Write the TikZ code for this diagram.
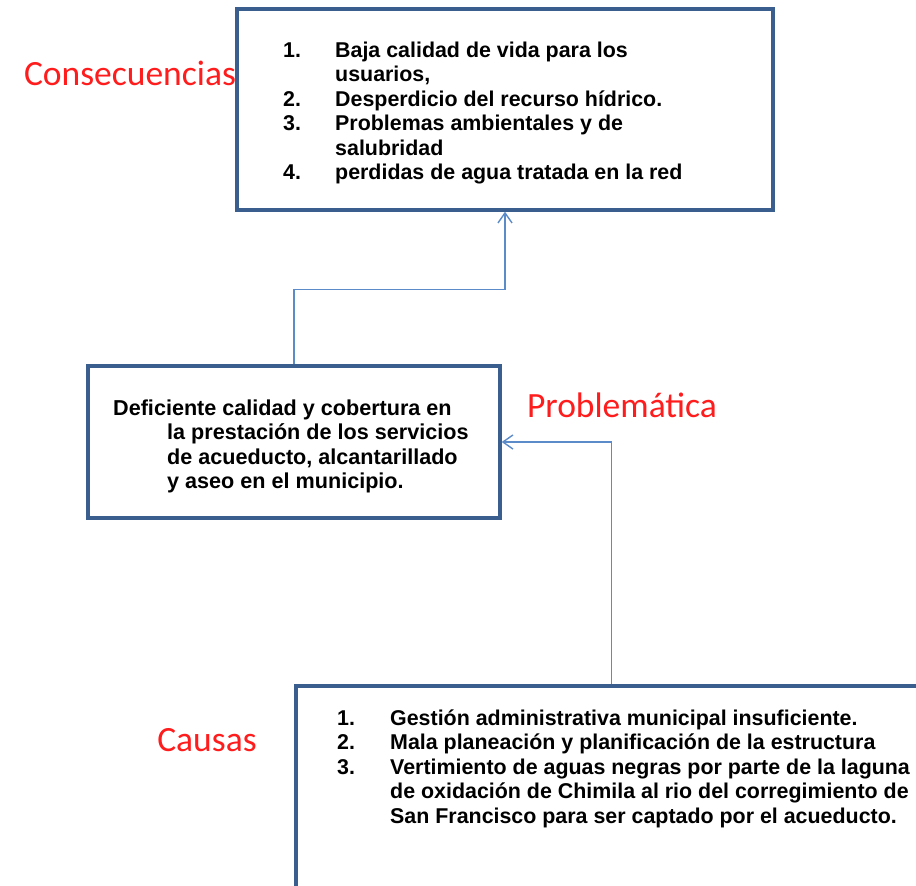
\documentclass[tikz,border=0pt]{standalone}
\usepackage{fontspec}
\setmainfont{Liberation Sans}
\newfontfamily\calib{Carlito}
\usetikzlibrary{arrows.meta}
\definecolor{boxline}{HTML}{3A5F8E}
\definecolor{arrline}{HTML}{5B8BC8}
\definecolor{lblred}{HTML}{FF1C1C}
\begin{document}
\begin{tikzpicture}[x=1pt,y=-1pt,
  box/.style={draw=boxline, line width=3.4pt, fill=white, inner sep=0pt},
  arr/.style={draw=arrline, line width=1.4pt, -{Straight Barb[length=10pt,width=14pt,line width=1.4pt]}},
  lbl/.style={text=lblred, font=\calib\fontsize{35.5}{40}\selectfont, inner sep=0pt},
  txtb/.style={inner sep=0pt, anchor=base west, font=\bfseries\fontsize{#1}{24.5}\selectfont}]
\useasboundingbox (0,0) rectangle (916,886);
\begin{scope}
\clip (0,0) rectangle (916,886);
\node[box, minimum width=536pt, minimum height=201pt] (cons) at (505,109.5) {};
\node[box, minimum width=412pt, minimum height=152pt] (prob) at (294,442) {};
\node[box, minimum width=704pt, minimum height=264pt] (caus) at (648,818) {};

\node[txtb=21.4] (constext) at (283,57) {\begin{tabular}[t]{@{}l@{}}
\makebox[52pt][l]{1.}Baja calidad de vida para los\\
\hspace*{52pt}usuarios,\\
\makebox[52pt][l]{2.}Desperdicio del recurso hídrico.\\
\makebox[52pt][l]{3.}Problemas ambientales y de\\
\hspace*{52pt}salubridad\\
\makebox[52pt][l]{4.}perdidas de agua tratada en la red
\end{tabular}};

\node[txtb=21.6] (probtext) at (167,415) {\begin{tabular}[t]{@{}l@{}}
\hspace*{-54pt}Deficiente calidad y cobertura en\\
la prestación de los servicios\\
de acueducto, alcantarillado\\
y aseo en el municipio.
\end{tabular}};

\node[txtb=21.4] (caustext) at (337,725) {\begin{tabular}[t]{@{}l@{}}
\makebox[53pt][l]{1.}Gestión administrativa municipal insuficiente.\\
\makebox[53pt][l]{2.}Mala planeación y planificación de la estructura\\
\makebox[53pt][l]{3.}Vertimiento de aguas negras por parte de la laguna\\
\hspace*{53pt}de oxidación de Chimila al rio del corregimiento de\\
\hspace*{53pt}San Francisco para ser captado por el acueducto.
\end{tabular}};

\node[lbl] (lcons) at (130,73) {Consecuencias};
\node[lbl] (lprob) at (622,405) {Problemática};
\node[lbl] (lcaus) at (207,740) {Causas};

\draw[arr] (prob.north) |- ([yshift=-78pt]cons.south) -- (cons.south);
\draw[arr] ([xshift=317pt]caus.north west) |- (prob.east);
\end{scope}
\end{tikzpicture}
\end{document}
